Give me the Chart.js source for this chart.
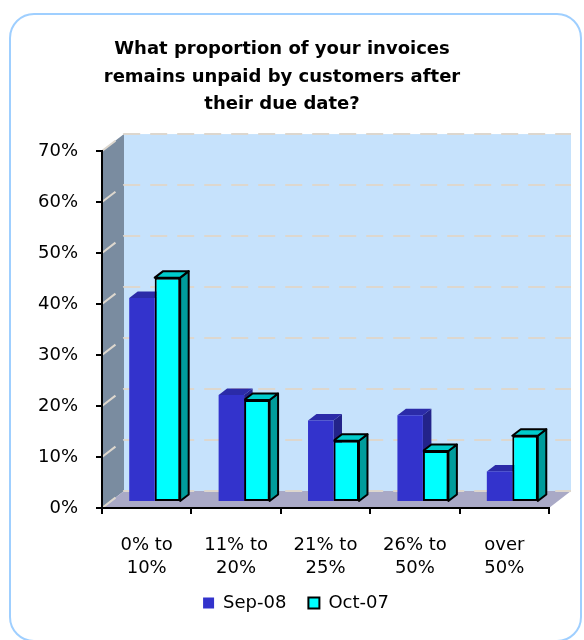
<!DOCTYPE html>
<html lang="en">

<head>
    <meta charset="UTF-8">
    <title>Unpaid Invoices</title>
    <script src="https://cdn.jsdelivr.net/npm/chart.js"></script>
    <style>
        body {
            margin: 0;
            background: #fff;
        }

        .wrap {
            position: relative;
            width: 584px;
            height: 640px;
            overflow: hidden;
        }

        .wrap canvas {
            position: absolute;
            left: 0;
            top: 0;
        }

        .frame {
            position: absolute;
            left: 9px;
            top: 13px;
            width: 573px;
            height: 629px;
            box-sizing: border-box;
            border: 2.5px solid #9fcfff;
            border-radius: 25px;
            pointer-events: none;
        }
    </style>
</head>

<body>
    <div class="wrap">
        <canvas id="invoiceChart" width="584" height="640"></canvas>
        <div class="frame"></div>
    </div>

    <script>
        // Survey answers, percent of respondents
        const categories = [['0% to', '10%'], ['11% to', '20%'], ['21% to', '25%'], ['26% to', '50%'], ['over', '50%']];
        const sep08 = [40, 21, 16, 17, 6];
        const oct07 = [44, 20, 12, 10, 13];
        const seriesNames = ['Sep-08', 'Oct-07'];
        const yTicks = [0, 10, 20, 30, 40, 50, 60, 70];

        const FONT = 'DejaVu Sans';

        // 3D offsets: floor/back wall depth, bar row depth, bar thickness
        const WALL = { dx: 22, dy: -17 };
        const ROW = { dx: 8, dy: -6 };
        const BOX = { dx: 8.5, dy: -6.5 };

        function poly(ctx, pts, fill, stroke) {
            ctx.beginPath();
            ctx.moveTo(pts[0][0], pts[0][1]);
            for (let i = 1; i < pts.length; i++) ctx.lineTo(pts[i][0], pts[i][1]);
            ctx.closePath();
            ctx.fillStyle = fill;
            ctx.fill();
            if (stroke) ctx.stroke();
        }

        const box3d = {
            id: 'box3d',
            beforeDraw(chart) {
                const ctx = chart.ctx;
                const { left, right, top, bottom } = chart.chartArea;
                const y = chart.scales.y;
                ctx.save();
                // back wall
                ctx.fillStyle = '#c6e2fc';
                ctx.fillRect(left + WALL.dx, top + WALL.dy, right - left, bottom - top);
                // side wall
                poly(ctx, [[left, top], [left + WALL.dx, top + WALL.dy],
                    [left + WALL.dx, bottom + WALL.dy], [left, bottom]], '#7a8ca0');
                // floor
                poly(ctx, [[left, bottom], [left + WALL.dx, bottom + WALL.dy],
                    [right + WALL.dx, bottom + WALL.dy], [right, bottom]], '#a9a9c6');
                // dashed gridlines across side wall and back wall
                ctx.setLineDash([17, 10]);
                ctx.strokeStyle = '#ddd7ce';
                ctx.lineWidth = 2;
                yTicks.forEach(v => {
                    const py = y.getPixelForValue(v);
                    ctx.beginPath();
                    ctx.moveTo(left, py);
                    ctx.lineTo(left + WALL.dx, py + WALL.dy);
                    ctx.lineTo(right + WALL.dx, py + WALL.dy);
                    ctx.stroke();
                });
                ctx.restore();
            },
            beforeDatasetsDraw(chart) {
                const ctx = chart.ctx;
                ctx.save();
                ctx.translate(ROW.dx, ROW.dy);
                // top and side faces first, in series order; the front faces
                // the library draws afterwards hide whatever sits behind them
                chart.data.datasets.forEach((ds, i) => {
                    const edged = ds.borderWidth > 0;
                    ctx.save();
                    ctx.lineJoin = 'round';
                    ctx.lineWidth = ds.borderWidth;
                    ctx.strokeStyle = ds.borderColor;
                    chart.getDatasetMeta(i).data.forEach(bar => {
                        const { x, y, base, width } = bar.getProps(['x', 'y', 'base', 'width'], true);
                        const l = x - width / 2, r = x + width / 2;
                        poly(ctx, [[r, y], [r + BOX.dx, y + BOX.dy], [r + BOX.dx, base + BOX.dy], [r, base]], ds.sideColor, edged);
                        poly(ctx, [[l, y], [l + BOX.dx, y + BOX.dy], [r + BOX.dx, y + BOX.dy], [r, y]], ds.topColor, edged);
                    });
                    ctx.restore();
                });
            },
            afterDatasetsDraw(chart) {
                chart.ctx.restore();
            },
            afterLayout(chart) {
                // legend sits a little right of the title centre and closer to the labels
                const lg = chart.legend;
                lg.left += 14;
                lg.right += 14;
                lg.top -= 12;
                lg.bottom -= 12;
            }
        };

        const ctx = document.getElementById('invoiceChart').getContext('2d');
        new Chart(ctx, {
            type: 'bar',
            data: {
                labels: categories,
                datasets: [
                    {
                        label: seriesNames[0],
                        data: sep08,
                        backgroundColor: '#3333cc',
                        borderWidth: 0,
                        borderColor: '#3333cc',
                        topColor: '#2b2ba8',
                        sideColor: '#23238a'
                    },
                    {
                        label: seriesNames[1],
                        data: oct07,
                        backgroundColor: '#00ffff',
                        borderColor: '#000',
                        borderWidth: 2,
                        borderSkipped: false,
                        topColor: '#00cccc',
                        sideColor: '#009c9c'
                    }
                ]
            },
            options: {
                responsive: false,
                animation: false,
                devicePixelRatio: 1,
                categoryPercentage: 0.57,
                barPercentage: 1,
                layout: { padding: { left: 15, right: 35, top: 0, bottom: 6 } },
                scales: {
                    x: {
                        grid: { drawOnChartArea: false, color: '#000', lineWidth: 2, tickLength: 6 },
                        border: { color: '#000', width: 2 },
                        ticks: {
                            color: '#000',
                            padding: 20,
                            maxRotation: 0,
                            font: { family: FONT, size: 18, lineHeight: 1.28 }
                        },
                        afterFit(scale) { scale.height = 76; }
                    },
                    y: {
                        min: 0,
                        max: 70,
                        grid: { drawOnChartArea: false, color: '#000', lineWidth: 2, tickLength: 6 },
                        border: { color: '#000', width: 2 },
                        ticks: {
                            stepSize: 10,
                            color: '#000',
                            padding: 18,
                            font: { family: FONT, size: 18 },
                            callback: v => v + '%'
                        },
                        afterFit(scale) { scale.width = 87; }
                    }
                },
                plugins: {
                    title: {
                        display: true,
                        text: ['What proportion of your invoices', 'remains unpaid by customers after', 'their due date?'],
                        color: '#000',
                        font: { family: FONT, size: 18, weight: 'bold', lineHeight: 1.52 },
                        padding: { top: 36, bottom: 33 }
                    },
                    legend: {
                        position: 'bottom',
                        labels: {
                            color: '#000',
                            boxWidth: 11,
                            boxHeight: 11,
                            padding: 22,
                            font: { family: FONT, size: 18 }
                        }
                    },
                    tooltip: { enabled: false }
                }
            },
            plugins: [box3d]
        });
    </script>
</body>

</html>
